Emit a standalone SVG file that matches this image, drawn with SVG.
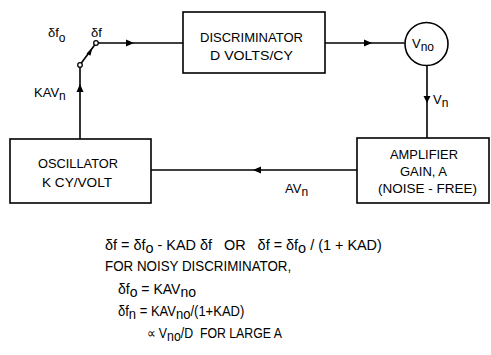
<svg xmlns="http://www.w3.org/2000/svg" width="491" height="355" viewBox="0 0 491 355">
<style>
.box{fill:#fff;stroke:#000;stroke-width:1.6}
.ln{fill:none;stroke:#000;stroke-width:1.6}
.t{font-family:"Liberation Sans",Arial,sans-serif;font-size:13px;fill:#000}
.e{font-family:"Liberation Sans",Arial,sans-serif;font-size:14px;fill:#000;white-space:pre}
.term{fill:#fff;stroke:#000;stroke-width:1.3}
</style>
<rect width="491" height="355" fill="#fff"/>
<g id="connectors">
<line class="ln" x1="96" y1="43" x2="183" y2="43"/>
<path d="M126,39.5 L134,43 L126,46.5 z"/>
<line class="ln" x1="325" y1="43" x2="404.5" y2="43"/>
<path d="M364,39.5 L372,43 L364,46.5 z"/>
<line class="ln" x1="427" y1="65" x2="427" y2="138"/>
<path d="M423.5,96 L427,103 L430.5,96 z"/>
<line class="ln" x1="357" y1="170" x2="151" y2="170"/>
<path d="M261,166.5 L253,170 L261,173.5 z"/>
<line class="ln" x1="80" y1="139" x2="80" y2="67"/>
<path d="M76.5,92 L80,84 L83.5,92 z"/>
<line class="ln" x1="81" y1="63.5" x2="95" y2="44.5"/>
<path d="M86.5,53.5 L92.5,47.5 L90.4,55.7 z"/>
<circle class="term" cx="80" cy="65" r="2.3"/>
<circle class="term" cx="96" cy="43" r="2.3"/>
</g>
<g id="discriminator">
<rect class="box" x="183" y="12" width="142" height="61"/>
<text class="t" x="200" y="42" textLength="103" lengthAdjust="spacingAndGlyphs">DISCRIMINATOR</text>
<text class="t" x="210" y="60" textLength="83" lengthAdjust="spacingAndGlyphs">D VOLTS/CY</text>
</g>
<g id="vno">
<circle class="box" cx="426.5" cy="44" r="21.5"/>
<text class="t" x="412" y="48">V<tspan dy="3" font-size="12">no</tspan></text>
</g>
<g id="amplifier">
<rect class="box" x="357" y="138" width="132" height="65"/>
<text class="t" x="390" y="159" textLength="68" lengthAdjust="spacingAndGlyphs">AMPLIFIER</text>
<text class="t" x="400" y="176" textLength="47" lengthAdjust="spacingAndGlyphs">GAIN, A</text>
<text class="t" x="378" y="193" textLength="99" lengthAdjust="spacingAndGlyphs">(NOISE - FREE)</text>
</g>
<g id="oscillator">
<rect class="box" x="10" y="139" width="141" height="64"/>
<text class="t" x="38" y="168" textLength="80" lengthAdjust="spacingAndGlyphs">OSCILLATOR</text>
<text class="t" x="42" y="187" textLength="70" lengthAdjust="spacingAndGlyphs">K CY/VOLT</text>
</g>
<g id="labels">
<text class="t" x="48" y="37">δf<tspan dy="5" font-size="12">o</tspan></text>
<text class="t" x="91" y="37">δf</text>
<text class="t" x="34" y="97">KAV<tspan dy="3" font-size="12">n</tspan></text>
<text class="t" x="433" y="104">V<tspan dy="3" font-size="12">n</tspan></text>
<text class="t" x="285" y="193">AV<tspan dy="3" font-size="12">n</tspan></text>
</g>
<g id="equations">
<text class="e" transform="translate(105,250) scale(1.03,1)">δf = δf<tspan dy="2.5">o</tspan><tspan dy="-2.5"> - KAD δf   OR   δf = δf</tspan><tspan dy="2.5">o</tspan><tspan dy="-2.5"> / (1 + KAD)</tspan></text>
<text class="e" transform="translate(105,271) scale(0.955,1)">FOR NOISY DISCRIMINATOR,</text>
<text class="e" transform="translate(118,294)">δf<tspan dy="2.5">o</tspan><tspan dy="-2.5"> = KAV</tspan><tspan dy="2.5">no</tspan></text>
<text class="e" transform="translate(118,316) scale(0.93,1)">δf<tspan dy="2.5">n</tspan><tspan dy="-2.5"> = KAV</tspan><tspan dy="2.5">no</tspan><tspan dy="-2.5">/(1+KAD)</tspan></text>
<text class="e" transform="translate(147,338) scale(0.88,1)">∝ V<tspan dy="2.5">no</tspan><tspan dy="-2.5">/D  FOR LARGE A</tspan></text>
</g>
</svg>
